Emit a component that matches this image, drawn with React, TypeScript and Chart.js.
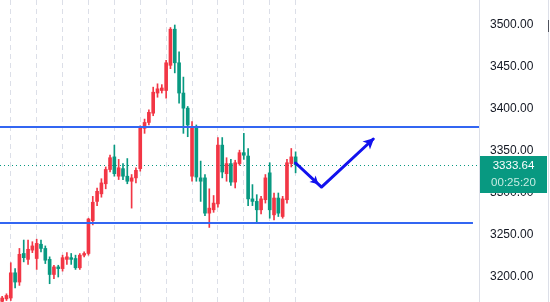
import React, { useEffect, useRef } from 'react';
import { Chart, registerables } from 'chart.js';

Chart.register(...registerables);

// ---- data ----
const openP = [
  3171, 3174, 3175, 3205, 3194, 3228, 3221, 3232, 3222, 3239,
  3234, 3221, 3203, 3212, 3210, 3221, 3223, 3222, 3211, 3226,
  3228, 3267, 3290, 3299, 3311, 3328, 3343, 3320, 3329, 3320,
  3314, 3318, 3329, 3377, 3384, 3395, 3419, 3422, 3422, 3452,
  3495, 3455, 3419, 3401, 3320, 3377, 3318, 3318, 3276, 3280,
  3287, 3357, 3323, 3335, 3313, 3335, 3348, 3344, 3293, 3290,
  3280, 3292, 3324, 3274, 3294, 3272, 3292, 3335, 3343,
];
const highP = [
  3177, 3180, 3217, 3210, 3234, 3244, 3244, 3242, 3245, 3244,
  3237, 3224, 3214, 3214, 3226, 3229, 3228, 3226, 3228, 3230,
  3270, 3296, 3306, 3317, 3331, 3345, 3357, 3340, 3335, 3341,
  3322, 3330, 3380, 3388, 3399, 3426, 3430, 3429, 3458, 3497,
  3500, 3468, 3438, 3403, 3385, 3381, 3338, 3322, 3305, 3297,
  3366, 3366, 3342, 3340, 3339, 3351, 3371, 3353, 3310, 3298,
  3296, 3322, 3336, 3300, 3300, 3296, 3340, 3353, 3349,
];
const lowP = [
  3170, 3172, 3172, 3187, 3190, 3218, 3215, 3229, 3209, 3230,
  3216, 3192, 3198, 3200, 3207, 3215, 3215, 3209, 3209, 3224,
  3226, 3262, 3285, 3295, 3305, 3325, 3320, 3316, 3316, 3311,
  3282, 3312, 3326, 3371, 3381, 3392, 3414, 3419, 3413, 3448,
  3443, 3407, 3371, 3367, 3314, 3314, 3290, 3273, 3259, 3277,
  3283, 3318, 3314, 3309, 3306, 3333, 3340, 3285, 3285, 3265,
  3275, 3288, 3270, 3268, 3272, 3270, 3288, 3331, 3324,
];
const closeP = [
  3175, 3178, 3205, 3194, 3227, 3223, 3233, 3237, 3240, 3234,
  3220, 3203, 3212, 3210, 3223, 3224, 3221, 3211, 3226, 3228,
  3269, 3289, 3302, 3312, 3328, 3342, 3323, 3330, 3320, 3314,
  3318, 3327, 3377, 3384, 3396, 3420, 3424, 3425, 3455, 3495,
  3455, 3419, 3401, 3381, 3378, 3319, 3314, 3276, 3282, 3288,
  3357, 3325, 3335, 3313, 3336, 3348, 3345, 3293, 3290, 3280,
  3293, 3318, 3280, 3294, 3276, 3293, 3336, 3343, 3333.64,
];

const SLOT_COUNT = 111; // candle slots incl. empty future space
const yTicks = [3200, 3250, 3300, 3350, 3400, 3450, 3500];
const Y_MIN = 3170.24;
const Y_MAX = 3529.76;

const resistanceLevel = 3378.6;
const supportLevel = 3264.3;
const supportEndSlot = 109.1;
const lastPrice = 3333.64;
const countdown = '00:25:20';

const arrowSlots = [68, 74, 86];
const arrowValues = [3335.7, 3307.1, 3364.3];

const gridFirstSlot = 2;
const gridStep = 6;
const gridLastSlot = 68;

// ---- styles ----
const UP = '#f23645';
const DOWN = '#089981';
const LEVEL = '#3366f2';
const ARROW = '#1212ee';
const GRID = '#dcdfe8';
const TEXT = '#131722';
const FONT = '"Liberation Sans", Arial, sans-serif';

function drawHead(ctx: CanvasRenderingContext2D, x: number, y: number, ang: number, len: number, half: number) {
  ctx.save();
  ctx.translate(x, y);
  ctx.rotate(ang);
  ctx.beginPath();
  ctx.moveTo(0, 0);
  ctx.lineTo(-len, -half);
  ctx.lineTo(-len * 0.75, 0);
  ctx.lineTo(-len, half);
  ctx.closePath();
  ctx.fill();
  ctx.restore();
}

const overlayPlugin = {
  id: 'overlay',
  beforeDatasetsDraw(chart: any) {
    const { ctx, chartArea, scales } = chart;
    const py = Math.round(scales.y.getPixelForValue(lastPrice)) + 0.5;
    ctx.save();
    ctx.strokeStyle = DOWN;
    ctx.lineWidth = 1;
    ctx.setLineDash([1, 3]);
    ctx.beginPath();
    ctx.moveTo(chartArea.left, py);
    ctx.lineTo(chartArea.right, py);
    ctx.stroke();
    ctx.restore();
  },
  afterDatasetsDraw(chart: any) {
    const { ctx, chartArea, scales } = chart;
    const { x, y } = scales;
    ctx.save();
    ctx.strokeStyle = LEVEL;
    ctx.lineWidth = 2;
    const ry = Math.round(y.getPixelForValue(resistanceLevel));
    ctx.beginPath();
    ctx.moveTo(chartArea.left, ry);
    ctx.lineTo(chartArea.right, ry);
    ctx.stroke();
    const sy = Math.round(y.getPixelForValue(supportLevel));
    ctx.beginPath();
    ctx.moveTo(chartArea.left, sy);
    ctx.lineTo(x.getPixelForValue(supportEndSlot), sy);
    ctx.stroke();

    // arrow heads
    const meta = chart.getDatasetMeta(2);
    const pts = arrowSlots.map((i) => meta.data[i]);
    ctx.fillStyle = ARROW;
    if (pts.every((p: any) => p)) {
      const [a, b, c] = pts;
      const ang1 = Math.atan2(b.y - a.y, b.x - a.x);
      const mx = a.x + (b.x - a.x) * 0.88;
      const my = a.y + (b.y - a.y) * 0.88;
      drawHead(ctx, mx, my, ang1, 8, 4.5);
      const ang2 = Math.atan2(c.y - b.y, c.x - b.x);
      drawHead(ctx, c.x + 1, c.y - 1, ang2, 11, 5.5);
    }
    ctx.restore();
  },
  afterDraw(chart: any) {
    const { ctx, chartArea, scales, width } = chart;
    const py = scales.y.getPixelForValue(lastPrice);
    const left = chartArea.right + 1;
    const boxW = 67;
    const top = Math.round(py - 8.5);
    const boxH = 37;
    ctx.save();
    ctx.fillStyle = DOWN;
    ctx.fillRect(left, top, boxW, boxH);
    ctx.font = '11.5px ' + FONT;
    ctx.textAlign = 'center';
    ctx.textBaseline = 'middle';
    ctx.fillStyle = '#ffffff';
    ctx.fillText(lastPrice.toFixed(2), left + boxW / 2, top + 9.5);
    ctx.fillStyle = '#c6ece2';
    ctx.fillText(countdown, left + boxW / 2, top + 27);
    // right edge chrome
    ctx.fillStyle = GRID;
    ctx.fillRect(width - 2, 0, 1, chart.height);
    ctx.fillStyle = '#50535e';
    ctx.fillRect(width - 2, 20, 1, 12);
    ctx.restore();
  },
};

export default function App() {
  const ref = useRef<HTMLCanvasElement>(null);

  useEffect(() => {
    const n = openP.length;
    const labels = Array.from({ length: SLOT_COUNT }, (_, i) => String(i));
    const colors = labels.map((_, i) => (i < n && closeP[i] >= openP[i] ? UP : DOWN));
    const wickData = labels.map((_, i) => (i < n ? [lowP[i], highP[i]] : null));
    const bodyData = labels.map((_, i) => (i < n ? [openP[i], closeP[i]] : null));
    const arrowData = labels.map((_, i) => {
      const k = arrowSlots.indexOf(i);
      return k >= 0 ? arrowValues[k] : null;
    });

    const chart = new Chart(ref.current as HTMLCanvasElement, {
      type: 'bar',
      data: {
        labels,
        datasets: [
          {
            type: 'bar',
            label: 'wick',
            data: wickData as any,
            backgroundColor: colors,
            barThickness: 1,
            grouped: false,
            order: 3,
          } as any,
          {
            type: 'bar',
            label: 'body',
            data: bodyData as any,
            backgroundColor: colors,
            barThickness: 3,
            minBarLength: 1,
            grouped: false,
            order: 2,
          } as any,
          {
            type: 'line',
            label: 'arrow',
            data: arrowData as any,
            borderColor: ARROW,
            borderWidth: 3,
            pointRadius: 0,
            spanGaps: true,
            borderCapStyle: 'round',
            borderJoinStyle: 'round',
            order: 0,
          } as any,
        ],
      },
      options: {
        animation: false,
        responsive: true,
        maintainAspectRatio: false,
        events: [],
        layout: { padding: 0 },
        plugins: { legend: { display: false }, tooltip: { enabled: false } },
        scales: {
          x: {
            type: 'category',
            offset: true,
            grid: {
              display: true,
              offset: false,
              drawTicks: false,
              lineWidth: 1,
              color: (c: any) =>
                c.index >= gridFirstSlot && c.index <= gridLastSlot && (c.index - gridFirstSlot) % gridStep === 0
                  ? GRID
                  : 'rgba(0,0,0,0)',
            },
            border: { display: false, dash: [5, 4] },
            ticks: { display: false, autoSkip: false },
            afterFit: (s: any) => {
              s.height = 0;
              s.paddingLeft = 0;
              s.paddingRight = 0;
            },
          },
          y: {
            type: 'linear',
            position: 'right',
            min: Y_MIN,
            max: Y_MAX,
            grid: { display: false, drawTicks: false },
            border: { display: true, color: GRID, width: 1 },
            ticks: {
              padding: 11,
              color: TEXT,
              font: { family: FONT, size: 12 },
              callback: (v: any) => Number(v).toFixed(2),
            },
            afterBuildTicks: (s: any) => {
              s.ticks = yTicks.map((v) => ({ value: v }));
            },
            afterFit: (s: any) => {
              s.width = 71;
              s.paddingTop = 0;
              s.paddingBottom = 0;
            },
          },
        },
      },
      plugins: [overlayPlugin],
    });
    return () => chart.destroy();
  }, []);

  return (
    <div style={{ position: 'absolute', left: 0, top: 0, width: 550, height: 302, background: '#fff' }}>
      <canvas ref={ref} />
    </div>
  );
}
